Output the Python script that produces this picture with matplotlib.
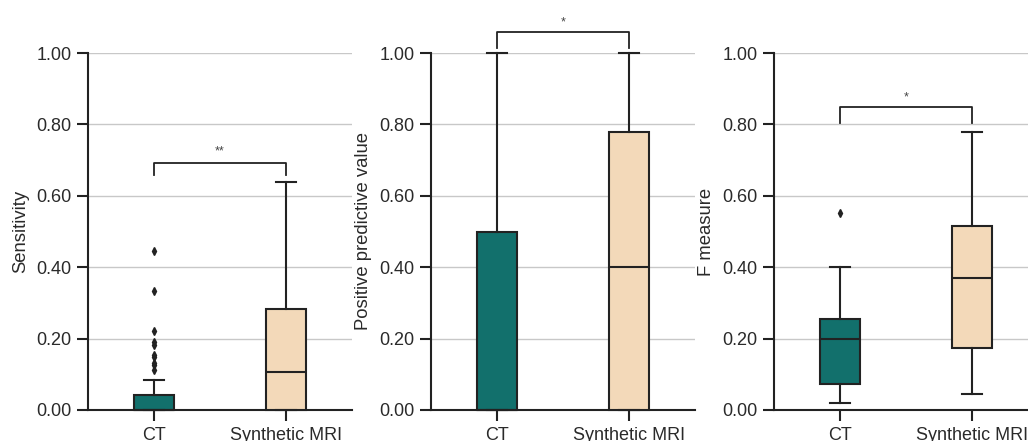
import matplotlib.pyplot as plt

plt.rcParams['font.family'] = ['Liberation Sans', 'DejaVu Sans']

W, H = 1028, 441
groups = ['CT', 'Synthetic MRI']
colors = ['#12706c', '#f3d9b9']
edge = '#222222'

# box stats: [CT, Synthetic MRI]
sens_whislo = [0.0, 0.0]
sens_q1 = [0.0, 0.0]
sens_med = [0.0, 0.107]
sens_q3 = [0.042, 0.282]
sens_whishi = [0.083, 0.639]
sens_fliers = [[0.444, 0.333, 0.222, 0.190, 0.182, 0.154, 0.148, 0.133, 0.125, 0.111], []]

ppv_whislo = [0.0, 0.0]
ppv_q1 = [0.0, 0.0]
ppv_med = [0.0, 0.40]
ppv_q3 = [0.50, 0.778]
ppv_whishi = [1.0, 1.0]
ppv_fliers = [[], []]

f_whislo = [0.019, 0.045]
f_q1 = [0.074, 0.173]
f_med = [0.20, 0.369]
f_q3 = [0.256, 0.515]
f_whishi = [0.40, 0.780]
f_fliers = [[0.552], []]

# significance brackets: (bottom, top, label, label y)
sig = [(0.658, 0.693, '**', 0.725), (1.014, 1.059, '*', 1.085), (0.804, 0.849, '*', 0.875)]


def make_stats(lo, q1, med, q3, hi, fl):
    return [dict(whislo=lo[i], q1=q1[i], med=med[i], q3=q3[i], whishi=hi[i],
                 fliers=fl[i], label=groups[i]) for i in range(2)]


def panel(fig, left_px, stats, ylabel, sg):
    ax = fig.add_axes([left_px / W, 1 - 410 / H, 264 / W, (410 - 53) / H])
    bp = ax.bxp(stats, positions=[0, 1], widths=0.3, capwidths=0.15,
                patch_artist=True,
                boxprops=dict(edgecolor=edge, linewidth=1.5),
                whiskerprops=dict(color=edge, linewidth=1.5),
                capprops=dict(color=edge, linewidth=1.5),
                medianprops=dict(color=edge, linewidth=1.5),
                flierprops=dict(marker='d', markerfacecolor=edge, markeredgecolor=edge,
                                markersize=4, linestyle='none'))
    for patch, c in zip(bp['boxes'], colors):
        patch.set_facecolor(c)
    for art in bp['caps'] + bp['whiskers'] + bp['boxes'] + bp['medians']:
        art.set_clip_on(False)
        art.set_zorder(3)
    ax.set_xlim(-0.5, 1.5)
    ax.set_ylim(0, 1)
    ax.set_yticks([0, 0.2, 0.4, 0.6, 0.8, 1.0])
    ax.set_yticklabels(['0.00', '0.20', '0.40', '0.60', '0.80', '1.00'])
    ax.set_xticks([0, 1])
    ax.set_xticklabels(groups)
    ax.yaxis.grid(True, color='#c8c8c8', linewidth=1)
    ax.set_axisbelow(True)
    for s in ['top', 'right']:
        ax.spines[s].set_visible(False)
    for s in ['left', 'bottom']:
        ax.spines[s].set_linewidth(1.5)
        ax.spines[s].set_color(edge)
    ax.tick_params(axis='both', length=8, width=1.5, color=edge, labelsize=13,
                   labelcolor='#2a2a2a', pad=4)
    ax.set_ylabel(ylabel, fontsize=13.3, color='#2a2a2a', labelpad=5)
    lo, hi, lab, ly = sg
    ax.plot([0, 0, 1, 1], [lo, hi, hi, lo], color=edge, lw=1.3, clip_on=False)
    ax.text(0.5, ly, lab, ha='center', va='center', fontsize=9, color='#444444')
    return ax


fig = plt.figure(figsize=(W / 100, H / 100), dpi=100)
panel(fig, 88, make_stats(sens_whislo, sens_q1, sens_med, sens_q3, sens_whishi, sens_fliers),
      'Sensitivity', sig[0])
panel(fig, 431, make_stats(ppv_whislo, ppv_q1, ppv_med, ppv_q3, ppv_whishi, ppv_fliers),
      'Positive predictive value', sig[1])
panel(fig, 774, make_stats(f_whislo, f_q1, f_med, f_q3, f_whishi, f_fliers),
      'F measure', sig[2])
fig.savefig('out.png', dpi=100)
